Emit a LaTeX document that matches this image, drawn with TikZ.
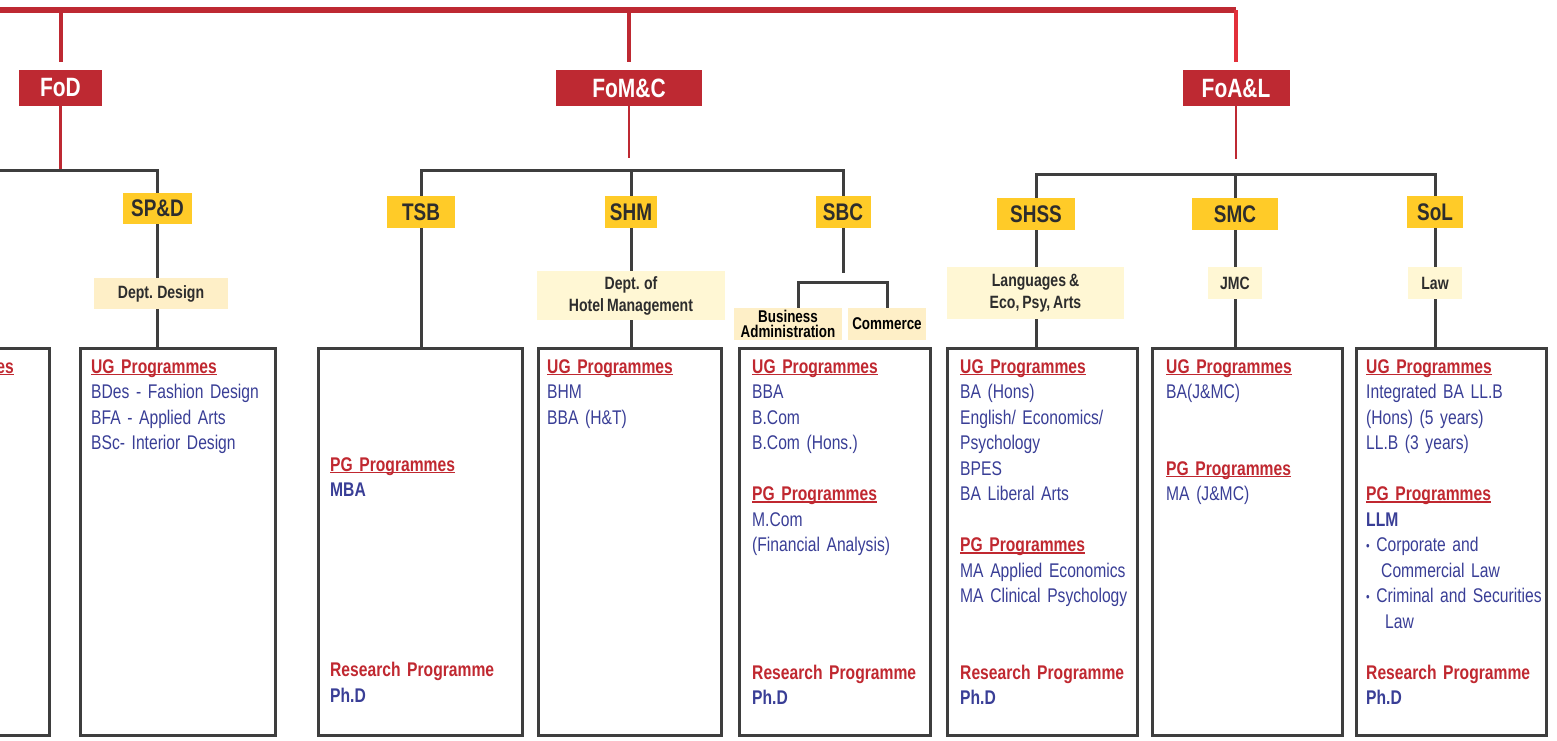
\documentclass[tikz,border=0pt]{standalone}
\usepackage{fontspec}
\setmainfont{Liberation Sans}[FakeStretch=0.79,WordSpace=0.75]
\usetikzlibrary{positioning,calc}
\definecolor{facred}{RGB}{190,41,50}
\definecolor{brightred}{RGB}{226,48,58}
\definecolor{schyellow}{RGB}{255,203,40}
\definecolor{deptcream}{RGB}{255,247,212}
\definecolor{deptpeach}{RGB}{254,239,199}
\definecolor{linegrey}{RGB}{62,62,62}
\definecolor{progblue}{RGB}{57,62,150}
\definecolor{headred}{RGB}{192,40,48}
\definecolor{labelgrey}{RGB}{45,45,45}
\newcommand\phead[1]{\leavevmode{\color{headred}\bfseries\setbox0\hbox{#1}\rlap{\rule[-2.3pt]{\wd0}{1.6pt}}\box0}}
\newcommand\rhead[1]{\leavevmode{\color{headred}\bfseries #1}}
\newcommand\dotitem{\leavevmode\raisebox{1.5pt}{\fontsize{13}{13}\selectfont •}\hspace{6.5pt}}

\begin{document}
\begin{tikzpicture}
[x=1pt,y=-1pt,
 fac/.style={fill=facred,text=white,font=\fontsize{26.5}{26.5}\selectfont\bfseries,inner sep=0pt,minimum height=36pt},
 sch/.style={fill=schyellow,text=labelgrey,font=\fontsize{24}{24}\selectfont\bfseries,inner sep=0pt,minimum height=32pt},
 dep/.style={fill=deptcream,text=labelgrey,font=\fontsize{17.8}{22}\selectfont\bfseries,inner sep=0pt,align=center},
 prog/.style={draw=linegrey,line width=3pt,inner sep=0pt,minimum height=387pt},
 items/.style={anchor=base west,inner sep=0pt,text width=300pt,align=left,text=progblue,font=\fontsize{19.8}{25.5}\selectfont},
 topline/.style={draw=facred,line width=5.5pt},
 redline/.style={draw=facred,line width=2.5pt},
 greyline/.style={draw=linegrey,line width=3pt}]
\useasboundingbox (0,0) rectangle (1557,740);
\clip (0,0) rectangle (1557,740);

\node[fac,minimum width=83pt] (fod) at (60.5,88) {FoD};
\node[fac,minimum width=146pt] (fomc) at (629,88) {FoM\&C};
\node[fac,minimum width=107pt] (foal) at (1236,88) {FoA\&L};

\node[sch,minimum width=69pt,minimum height=31pt] (spd) at (157.5,208.5) {SP\&D};
\node[sch,minimum width=68pt] (tsb) at (421,212) {TSB};
\node[sch,minimum width=52pt] (shm) at (631,212) {SHM};
\node[sch,minimum width=55pt] (sbc) at (843,212) {SBC};
\node[sch,minimum width=78pt] (shss) at (1036,214) {SHSS};
\node[sch,minimum width=86pt] (smc) at (1235,214) {SMC};
\node[sch,minimum width=56pt] (sol) at (1435,212) {SoL};

\node[dep,fill=deptpeach,minimum width=134pt,minimum height=31pt] (design) at (161,293.5) {Dept. Design};
\node[dep,minimum width=188pt,minimum height=49pt] (hotel) at (631,295.5) {Dept. of\\Hotel Management};
\node[dep,fill=deptpeach,text=black,font=\fontsize{17}{15}\selectfont\bfseries,minimum width=108pt,minimum height=32pt] (busadm) at (788,324) {Business\\Administration};
\node[dep,fill=deptpeach,text=black,font=\fontsize{17}{15}\selectfont\bfseries,minimum width=78pt,minimum height=32pt] (comm) at (887,324) {Commerce};
\node[dep,minimum width=177pt,minimum height=52pt] (lang) at (1035.5,293) {Languages \&\\Eco, Psy, Arts};
\node[dep,minimum width=54pt,minimum height=32pt] (jmc) at (1235,283) {JMC};
\node[dep,minimum width=54pt,minimum height=32pt] (law) at (1435,283) {Law};

\node[prog,minimum width=175pt] (pl) at (-38,542) {};
\node[prog,minimum width=195pt] (pspd) at (178,542) {};
\node[prog,minimum width=204pt] (ptsb) at (420.5,542) {};
\node[prog,minimum width=183pt] (pshm) at (630,542) {};
\node[prog,minimum width=191pt] (psbc) at (835,542) {};
\node[prog,minimum width=190pt] (pshss) at (1042.5,542) {};
\node[prog,minimum width=190pt] (psmc) at (1247.5,542) {};
\node[prog,minimum width=190pt] (psol) at (1451.5,542) {};

\coordinate (t0) at (0,10);
\coordinate (t1) at (foal.north |- t0);
\coordinate (jfod) at ($(fod.south)+(0,64)$);
\coordinate (jfomc) at ($(fomc.south)+(0,64)$);
\coordinate (jfoal) at ($(foal.south)+(0,68)$);
\coordinate (jba) at (798,282);
\coordinate (jcom) at (comm.north |- jba);

\draw[topline] (t0) -- (t1);
\draw[redline,line width=4pt] (fod.north |- t0) -- ($(fod.north)+(0,-8)$);
\draw[redline,line width=4pt] (fomc.north |- t0) -- ($(fomc.north)+(0,-8)$);
\draw[redline,draw=brightred,line width=4.5pt] (t1) -- ($(foal.north)+(0,-8)$);

\draw[redline] (fod.south) -- (jfod);
\draw[redline] (fomc.south) -- ($(fomc.south)+(0,52)$);
\draw[redline] (foal.south) -- ($(foal.south)+(0,53)$);

\draw[greyline] (jfod -| t0) -| (spd.north);
\draw[greyline] (tsb.north) |- (sbc.north |- jfomc) -- (sbc.north);
\draw[greyline] (shm.north) -- (shm.north |- jfomc);
\draw[greyline] (shss.north) |- (sol.north |- jfoal) -- (sol.north);
\draw[greyline] (smc.north) -- (smc.north |- jfoal);

\draw[greyline] (spd.south) -- (spd.south |- design.north);
\draw[greyline] (spd.south |- design.south) -- (spd.south |- pspd.north);
\draw[greyline] (tsb.south) -- (tsb.south |- ptsb.north);
\draw[greyline] (shm.south) -- (shm.south |- hotel.north);
\draw[greyline] (hotel.south) -- (hotel.south |- pshm.north);
\draw[greyline] (sbc.south) -- ($(sbc.south)+(0,45)$);
\draw[greyline] (jba |- busadm.north) |- (jcom) -- (comm.north);
\draw[greyline] (shss.south) -- (shss.south |- lang.north);
\draw[greyline] (shss.south |- lang.south) -- (shss.south |- pshss.north);
\draw[greyline] (smc.south) -- (jmc.north);
\draw[greyline] (jmc.south) -- (jmc.south |- psmc.north);
\draw[greyline] (sol.south) -- (law.north);
\draw[greyline] (law.south) -- (law.south |- psol.north);

\node[items] (tl) at (-112,373) {\phead{UG Programmes}};
\node[items] (tspd) at (91,373) {\phead{UG Programmes}\\BDes - Fashion Design\\BFA - Applied Arts\\BSc- Interior Design};
\node[items] (ttsb) at (330,471) {\phead{PG Programmes}\\\textbf{MBA}\\[154.5pt]\rhead{Research Programme}\\\textbf{Ph.D}};
\node[items] (tshm) at (547,373) {\phead{UG Programmes}\\BHM\\BBA (H\&T)};
\node[items] (tsbc) at (752,373) {\phead{UG Programmes}\\BBA\\B.Com\\B.Com (Hons.)\\[25.5pt]\phead{PG Programmes}\\M.Com\\(Financial Analysis)\\[102pt]\rhead{Research Programme}\\\textbf{Ph.D}};
\node[items] (tshss) at (960,373) {\phead{UG Programmes}\\BA (Hons)\\English/ Economics/\\Psychology\\BPES\\BA Liberal Arts\\[25.5pt]\phead{PG Programmes}\\MA Applied Economics\\MA Clinical Psychology\\[51pt]\rhead{Research Programme}\\\textbf{Ph.D}};
\node[items] (tsmc) at (1166,373) {\phead{UG Programmes}\\BA(J\&MC)\\[51pt]\phead{PG Programmes}\\MA (J\&MC)};
\node[items] (tsol) at (1366,373) {\phead{UG Programmes}\\Integrated BA LL.B\\(Hons) (5 years)\\LL.B (3 years)\\[25.5pt]\phead{PG Programmes}\\\textbf{LLM}\\\dotitem Corporate and\\\hspace*{15pt}Commercial Law\\\dotitem Criminal and Securities\\\hspace*{19pt}Law\\[25.5pt]\rhead{Research Programme}\\\textbf{Ph.D}};
\end{tikzpicture}
\end{document}
